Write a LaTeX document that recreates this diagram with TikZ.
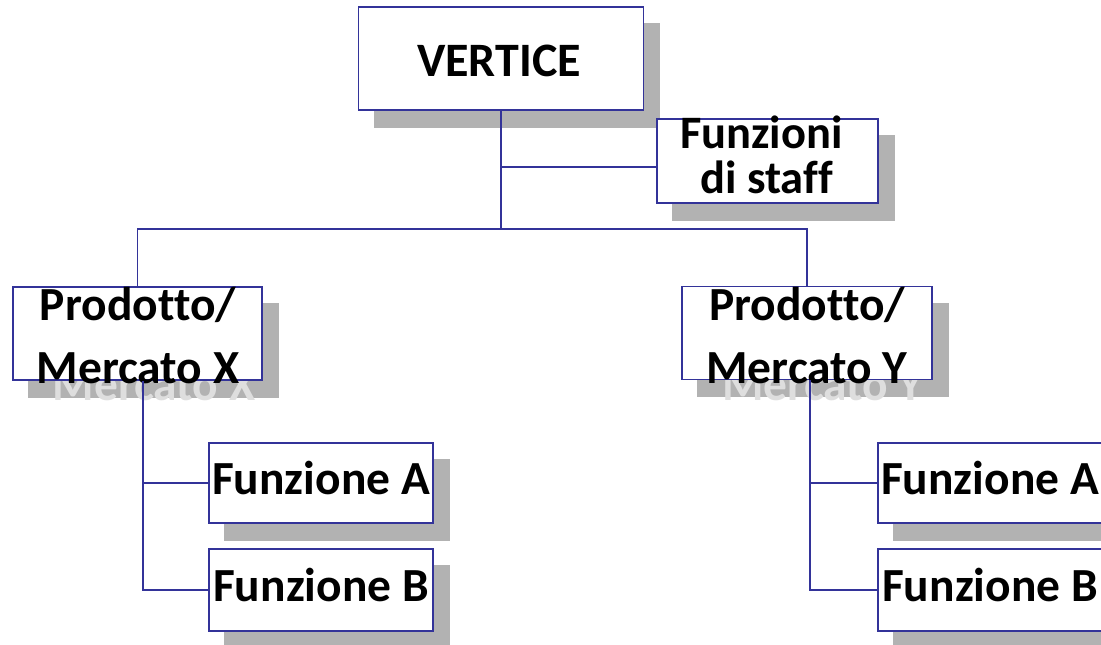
\documentclass[tikz,border=0pt]{standalone}
\usepackage{fontspec}
\setmainfont{Carlito}[Ligatures={TeX,CommonOff}]
\definecolor{linkblue}{RGB}{51,51,153}
\definecolor{shadowgray}{RGB}{178,178,178}
\definecolor{ghostgray}{RGB}{222,222,222}
\pgfdeclarelayer{shadow}
\pgfdeclarelayer{ghost}
\pgfsetlayers{shadow,ghost,main}

\begin{document}
\begin{tikzpicture}[x=1pt,y=-1pt,
  box/.style={rectangle, draw=linkblue, line width=1.8pt, fill=white, inner sep=0pt},
  conn/.style={draw=linkblue, line width=1.8pt},
  lbl/.style={inner sep=0pt, anchor=base, font=\bfseries\fontsize{47.5}{55}\selectfont},
  biglbl/.style={lbl, font=\bfseries\fontsize{48}{58}\selectfont},
  stafflbl/.style={lbl, font=\bfseries\fontsize{46.5}{50}\selectfont},
  ghost/.style={lbl, text=ghostgray}]
\useasboundingbox (0,0) rectangle (1101,645);

% organisation boxes
\node[box, minimum width=285pt, minimum height=103pt] (v)   at (501,58.5) {};
\node[box, minimum width=221pt, minimum height=84pt]  (s)   at (767.5,161) {};
\node[box, minimum width=249pt, minimum height=93pt]  (px)  at (137.5,333.5) {};
\node[box, minimum width=250pt, minimum height=93pt]  (py)  at (807,333) {};
\node[box, minimum width=224pt, minimum height=80pt]  (fal) at (321,483) {};
\node[box, minimum width=224pt, minimum height=82pt]  (fbl) at (321,590) {};
\node[box, minimum width=224pt, minimum height=80pt]  (far) at (990,483) {};
\node[box, minimum width=224pt, minimum height=82pt]  (fbr) at (990,590) {};

% drop shadows behind the boxes
\begin{pgfonlayer}{shadow}
  \foreach \n in {v,s,px,py,fal,fbl,far,fbr}
    \fill[shadowgray] ([shift={(16,17)}]\n.north west) rectangle ([shift={(16,17)}]\n.south east);
\end{pgfonlayer}

% labels
\node[biglbl]   (vt)   at (499,76)    {VERTICE};
\node[stafflbl] (st1)  at (761.5,148) {Funzioni};
\node[stafflbl] (st2)  at (766.5,193) {di staff};
\node[lbl]      (pxt1) at (138,320)   {Prodotto/};
\node[lbl]      (pxt2) at (138,383)   {Mercato X};
\node[lbl]      (pyt1) at (807,320)   {Prodotto/};
\node[lbl]      (pyt2) at (807,383)   {Mercato Y};
\node[lbl]      (falt) at (321,494)   {Funzione A};
\node[lbl]      (fblt) at (321,601)   {Funzione B};
\node[lbl]      (fart) at (990,494)   {Funzione A};
\node[lbl]      (fbrt) at (990,601)   {Funzione B};

% text shadows of the overflowing second lines
\begin{pgfonlayer}{ghost}
  \node[ghost] (gx) at ([shift={(16,17)}]pxt2.base) {Mercato X};
  \node[ghost] (gy) at ([shift={(16,17)}]pyt2.base) {Mercato Y};
\end{pgfonlayer}

% connectors
\coordinate (bar) at (501,229);
\coordinate (staffjoin) at (501,167);
\coordinate (spineL) at (143,380);
\coordinate (spineR) at (810,380);
\draw[conn] (v.south) -- (bar);
\draw[conn] (staffjoin) -- (staffjoin -| s.west);
\draw[conn] (px.north) |- (bar) -| (py.north);
\draw[conn] (px.south -| spineL) |- (fbl.west);
\draw[conn] (fal.west -| spineL) -- (fal.west);
\draw[conn] (py.south -| spineR) |- (fbr.west);
\draw[conn] (far.west -| spineR) -- (far.west);
\end{tikzpicture}
\end{document}
